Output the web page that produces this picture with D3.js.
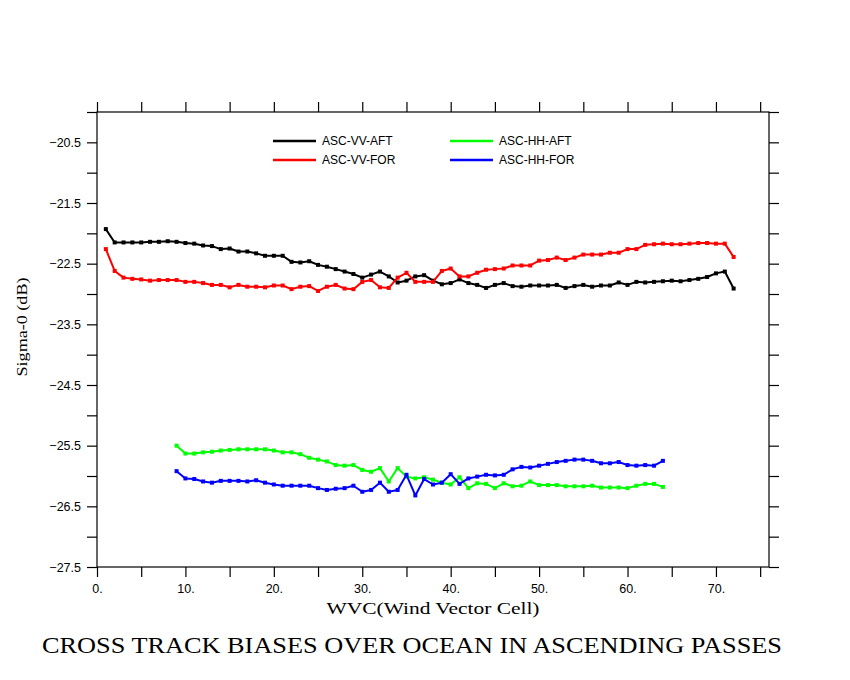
<!DOCTYPE html>
<html>
<head>
<meta charset="utf-8">
<script src="https://cdn.jsdelivr.net/npm/d3@7"></script>
<style>
    body { margin: 0; background: #fff; }
    svg { display: block; background: #fff; }
</style>
</head>
<body>
<svg id="chart" width="850" height="680"></svg>
<script>
// WVC index for each series
const wvcVV = [1, 2, 3, 4, 5, 6, 7, 8, 9, 10, 11, 12, 13, 14, 15, 16, 17, 18, 19, 20,
    21, 22, 23, 24, 25, 26, 27, 28, 29, 30, 31, 32, 33, 34, 35, 36, 37, 38, 39, 40,
    41, 42, 43, 44, 45, 46, 47, 48, 49, 50, 51, 52, 53, 54, 55, 56, 57, 58, 59, 60,
    61, 62, 63, 64, 65, 66, 67, 68, 69, 70, 71, 72];
const wvcHH = [9, 10, 11, 12, 13, 14, 15, 16, 17, 18, 19, 20,
    21, 22, 23, 24, 25, 26, 27, 28, 29, 30, 31, 32, 33, 34, 35, 36, 37, 38, 39, 40,
    41, 42, 43, 44, 45, 46, 47, 48, 49, 50, 51, 52, 53, 54, 55, 56, 57, 58, 59, 60,
    61, 62, 63, 64];

// sigma-0 (dB)
const ascVVAft = [-21.93, -22.15, -22.15, -22.15, -22.15, -22.14, -22.14, -22.13, -22.14, -22.16,
    -22.17, -22.20, -22.21, -22.26, -22.25, -22.30, -22.30, -22.33, -22.37, -22.37,
    -22.37, -22.47, -22.48, -22.46, -22.52, -22.55, -22.59, -22.63, -22.67, -22.73,
    -22.68, -22.63, -22.71, -22.81, -22.78, -22.71, -22.69, -22.78, -22.84, -22.82,
    -22.76, -22.82, -22.85, -22.90, -22.85, -22.82, -22.87, -22.88, -22.86, -22.86,
    -22.86, -22.85, -22.90, -22.87, -22.85, -22.88, -22.86, -22.86, -22.81, -22.85,
    -22.80, -22.81, -22.80, -22.79, -22.78, -22.79, -22.77, -22.75, -22.72, -22.66,
    -22.63, -22.91];
const ascVVFor = [-22.26, -22.62, -22.73, -22.75, -22.76, -22.78, -22.77, -22.77, -22.77, -22.80,
    -22.80, -22.82, -22.85, -22.85, -22.89, -22.85, -22.88, -22.88, -22.89, -22.86,
    -22.86, -22.92, -22.88, -22.87, -22.95, -22.88, -22.85, -22.91, -22.92, -22.80,
    -22.77, -22.89, -22.90, -22.73, -22.65, -22.80, -22.80, -22.80, -22.62, -22.58,
    -22.71, -22.71, -22.65, -22.60, -22.59, -22.58, -22.53, -22.53, -22.53, -22.45,
    -22.44, -22.40, -22.44, -22.40, -22.35, -22.35, -22.35, -22.32, -22.32, -22.26,
    -22.26, -22.19, -22.18, -22.17, -22.18, -22.18, -22.17, -22.16, -22.16, -22.17,
    -22.17, -22.39];
const ascHHAft = [-25.50, -25.63, -25.63, -25.61, -25.60, -25.58, -25.57, -25.56, -25.56, -25.56,
    -25.56, -25.58, -25.61, -25.61, -25.64, -25.70, -25.73, -25.76, -25.82, -25.83,
    -25.82, -25.90, -25.93, -25.87, -26.09, -25.87, -26.01, -26.04, -26.02, -26.06,
    -26.11, -26.14, -26.02, -26.20, -26.12, -26.13, -26.20, -26.12, -26.17, -26.16,
    -26.09, -26.15, -26.15, -26.15, -26.17, -26.17, -26.17, -26.16, -26.19, -26.19,
    -26.19, -26.20, -26.16, -26.13, -26.13, -26.18];
const ascHHFor = [-25.92, -26.04, -26.05, -26.09, -26.11, -26.08, -26.08, -26.08, -26.09, -26.07,
    -26.11, -26.14, -26.16, -26.16, -26.16, -26.16, -26.20, -26.23, -26.21, -26.20,
    -26.16, -26.26, -26.23, -26.11, -26.26, -26.23, -25.98, -26.32, -26.05, -26.14,
    -26.11, -25.97, -26.13, -26.04, -26.01, -25.98, -25.99, -25.98, -25.89, -25.85,
    -25.86, -25.83, -25.80, -25.77, -25.75, -25.73, -25.73, -25.75, -25.79, -25.79,
    -25.77, -25.82, -25.83, -25.82, -25.83, -25.75];

const seriesNames = ["ASC-VV-AFT", "ASC-VV-FOR", "ASC-HH-AFT", "ASC-HH-FOR"];
const seriesColors = ["#000000", "#ff0000", "#00ff00", "#0000ff"];

// tick values
const xTicks = [0, 5, 10, 15, 20, 25, 30, 35, 40, 45, 50, 55, 60, 65, 70, 75];
const xLabels = [0, 10, 20, 30, 40, 50, 60, 70];
const yTicks = [-27.5, -27, -26.5, -26, -25.5, -25, -24.5, -24, -23.5, -23, -22.5, -22, -21.5, -21, -20.5, -20];
const yLabels = [-27.5, -26.5, -25.5, -24.5, -23.5, -22.5, -21.5, -20.5];

const titleText = "CROSS TRACK BIASES OVER OCEAN IN ASCENDING PASSES";
const xTitle = "WVC(Wind Vector Cell)";
const yTitle = "Sigma-0 (dB)";

const canvas = d3.select("#chart");

const pLeft = 97, pRight = 769, pTop = 112, pBottom = 567;

const xScale = d3.scaleLinear().domain([0, 76]).range([pLeft, pRight]);
const yScale = d3.scaleLinear().domain([-27.5, -20]).range([pBottom, pTop]);

const tickFont = "'Liberation Sans', Arial, sans-serif";
const serifFont = "'Liberation Serif', 'Times New Roman', serif";

// axes, ticks point outward on all four sides
const xAxisB = d3.axisBottom(xScale).tickValues(xTicks).tickSize(10).tickSizeOuter(0).tickPadding(7)
    .tickFormat(d => xLabels.includes(d) ? d + "." : "");
const xAxisT = d3.axisTop(xScale).tickValues(xTicks).tickSize(10).tickSizeOuter(0).tickFormat("");
const yAxisL = d3.axisLeft(yScale).tickValues(yTicks).tickSize(10).tickSizeOuter(0).tickPadding(6)
    .tickFormat(d => yLabels.includes(d) ? d3.format(".1f")(d) : "");
const yAxisR = d3.axisRight(yScale).tickValues(yTicks).tickSize(10).tickSizeOuter(0).tickFormat("");

const axes = [
    [xAxisB, "translate(0," + pBottom + ")"],
    [xAxisT, "translate(0," + pTop + ")"],
    [yAxisL, "translate(" + pLeft + ",0)"],
    [yAxisR, "translate(" + pRight + ",0)"]
];
axes.forEach(([ax, tr]) => {
    const g = canvas.append("g").attr("transform", tr).call(ax);
    g.select(".domain").remove();
    g.selectAll(".tick line").attr("stroke", "#000").attr("stroke-width", 1.2);
    g.selectAll(".tick text").attr("fill", "#000")
        .style("font-family", tickFont).style("font-size", "12.5px");
});

// frame
canvas.append("rect")
    .attr("x", pLeft).attr("y", pTop)
    .attr("width", pRight - pLeft).attr("height", pBottom - pTop)
    .attr("fill", "none").attr("stroke", "#000").attr("stroke-width", 1.2);

// series
const series = [
    { name: seriesNames[0], color: seriesColors[0], xs: wvcVV, ys: ascVVAft },
    { name: seriesNames[1], color: seriesColors[1], xs: wvcVV, ys: ascVVFor },
    { name: seriesNames[2], color: seriesColors[2], xs: wvcHH, ys: ascHHAft },
    { name: seriesNames[3], color: seriesColors[3], xs: wvcHH, ys: ascHHFor }
];

const line = d3.line().x(d => xScale(d[0])).y(d => yScale(d[1]));

series.forEach(s => {
    const pts = s.xs.map((x, i) => [x, s.ys[i]]);
    canvas.append("path")
        .datum(pts)
        .attr("d", line)
        .attr("fill", "none")
        .attr("stroke", s.color)
        .attr("stroke-width", 2)
        .attr("stroke-linejoin", "round");
    canvas.append("g").selectAll("rect")
        .data(pts)
        .enter()
        .append("rect")
        .attr("x", d => xScale(d[0]) - 2)
        .attr("y", d => yScale(d[1]) - 2)
        .attr("width", 4)
        .attr("height", 4)
        .attr("fill", s.color);
});

// legend, two columns
const legendPos = [[273, 141], [273, 160], [450, 141], [450, 160]];
series.forEach((s, i) => {
    const [lx, ly] = legendPos[i];
    canvas.append("line")
        .attr("x1", lx).attr("x2", lx + 43)
        .attr("y1", ly).attr("y2", ly)
        .attr("stroke", s.color).attr("stroke-width", 2.5);
    canvas.append("text")
        .attr("x", lx + 49).attr("y", ly + 4)
        .style("font-family", tickFont).style("font-size", "12px")
        .text(s.name);
});

// titles
canvas.append("text")
    .attr("x", (pLeft + pRight) / 2).attr("y", 614)
    .attr("text-anchor", "middle")
    .attr("textLength", 213).attr("lengthAdjust", "spacingAndGlyphs")
    .style("font-family", serifFont).style("font-size", "16px")
    .text(xTitle);

canvas.append("text")
    .attr("transform", "translate(27,327) rotate(-90)")
    .attr("text-anchor", "middle")
    .attr("textLength", 99).attr("lengthAdjust", "spacingAndGlyphs")
    .style("font-family", serifFont).style("font-size", "14px")
    .text(yTitle);

canvas.append("text")
    .attr("x", 412).attr("y", 653)
    .attr("text-anchor", "middle")
    .attr("textLength", 740).attr("lengthAdjust", "spacingAndGlyphs")
    .style("font-family", serifFont).style("font-size", "24px")
    .text(titleText);
</script>
</body>
</html>
